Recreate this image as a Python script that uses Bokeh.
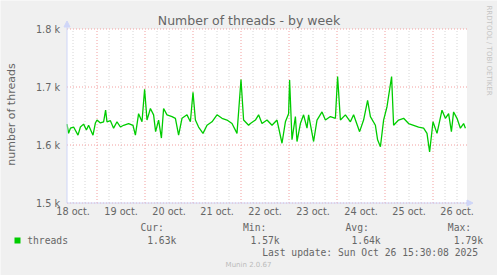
import math
from bokeh.plotting import figure
from bokeh.models import (Label, Range1d, ColumnDataSource, Arrow, NormalHead,
                          BoxAnnotation)
from bokeh.core.properties import value
from bokeh.embed import file_html
from bokeh.resources import INLINE

# ---- data (hours since 18 Oct 00:00, number of threads) ----
hours = [9.0, 9.8, 10.7, 12.3, 14.5, 15.7, 17.3, 18.7, 19.8, 22.0, 23.2, 24.0,
         25.7, 27.3, 28.3, 29.0, 30.7, 32.3, 34.0, 35.7, 37.3, 39.8, 42.0, 43.2,
         44.8, 46.5, 47.8, 49.0, 50.7, 52.3, 53.3, 54.8, 56.2, 57.3, 59.0, 61.5,
         63.2, 64.8, 66.5, 69.0, 70.7, 72.0, 73.2, 74.8, 77.0, 79.0, 81.5, 84.0,
         86.5, 89.0, 91.5, 94.0, 94.8, 96.0, 97.3, 99.8, 100.7, 103.2, 104.8, 106.5,
         109.0, 111.5, 114.0, 116.5, 118.2, 119.8, 120.3, 121.5, 123.2, 124.0, 125.7, 127.3,
         129.0, 129.8, 132.3, 134.0, 136.5, 138.2, 140.7, 143.2, 144.3, 145.7, 148.2, 150.7,
         152.3, 155.3, 157.3, 159.3, 160.7, 163.2, 164.3, 165.7, 167.3, 169.0, 171.3, 172.3,
         174.8, 177.3, 179.8, 182.3, 184.8, 187.3, 189.0, 190.3, 192.0, 194.0, 196.5, 198.2,
         199.8, 201.2, 202.3, 204.0, 205.7, 207.3, 208.2]
threads = [1636, 1620, 1629, 1631, 1617, 1631, 1636, 1626, 1634, 1617, 1638, 1643,
           1638, 1640, 1660, 1640, 1642, 1629, 1640, 1631, 1634, 1637, 1634, 1617,
           1654, 1640, 1696, 1643, 1663, 1652, 1623, 1643, 1612, 1663, 1652, 1649,
           1646, 1617, 1646, 1652, 1640, 1691, 1643, 1631, 1620, 1634, 1640, 1652,
           1646, 1643, 1637, 1620, 1657, 1713, 1643, 1634, 1637, 1643, 1652, 1637,
           1643, 1634, 1643, 1603, 1640, 1654, 1712, 1609, 1649, 1606, 1637, 1652,
           1629, 1652, 1606, 1643, 1657, 1643, 1649, 1646, 1718, 1643, 1652, 1640,
           1652, 1623, 1643, 1677, 1649, 1634, 1609, 1597, 1643, 1666, 1718, 1634,
           1643, 1646, 1637, 1634, 1631, 1629, 1620, 1588, 1640, 1620, 1660, 1646,
           1654, 1623, 1657, 1646, 1629, 1637, 1629]

x_start, x_end = 9, 209            # shown time window (hours)
y_start, y_end = 1500, 1800        # shown value window

day_label_hours = [12, 36, 60, 84, 108, 132, 156, 180, 204]
day_labels = ["18 oct.", "19 oct.", "20 oct.", "21 oct.", "22 oct.",
              "23 oct.", "24 oct.", "25 oct.", "26 oct."]
midnight_hours = [24, 48, 72, 96, 120, 144, 168, 192]
six_hour_marks = [12, 18, 30, 36, 42, 54, 60, 66, 78, 84, 90, 102, 108, 114,
                  126, 132, 138, 150, 156, 162, 174, 180, 186, 198, 204]
y_ticks = [1500, 1600, 1700, 1800]
y_tick_labels = ["1.5 k", "1.6 k", "1.7 k", "1.8 k"]

series_name = "threads"
stat_cur, stat_min, stat_avg, stat_max = "1.63k", "1.57k", "1.64k", "1.79k"
title_text = "Number of threads - by week"
y_axis_title = "number of threads"
last_update = "Last update: Sun Oct 26 15:30:08 2025"
version_text = "Munin 2.0.67"
watermark = "RRDTOOL / TOBI OETIKER"

# ---- styles / layout ----
FONT = "#666666"
AXIS = "#CFD6F8"
MGRID = "#F3A0A0"
GRID = "#D6D6D6"
LINE = "#00CC00"
SANS = "DejaVu Sans"
MONO = "DejaVu Sans Mono"

W, H = 497, 275
PL, PR, PT, PB = 66.5, 466.5, 28.5, 202.5   # plot area in canvas pixels

kx = (PR - PL) / (x_end - x_start)   # px per hour
ky = (PB - PT) / (y_end - y_start)   # px per thread
xr = Range1d(x_start - PL / kx, x_end + (W - PR) / kx)
yr = Range1d(y_start - (H - PB) / ky, y_end + PT / ky)

p = figure(width=W, height=H, output_backend="svg", toolbar_location=None,
           x_range=xr, y_range=yr, x_axis_location=None, y_axis_location=None,
           min_border=0, background_fill_color="#F0F0F0",
           border_fill_color="#F0F0F0")
p.outline_line_color = None
p.grid.visible = False


def cx(px):
    """canvas pixel x -> data x (for layout text only)"""
    return xr.start + px / kx


def cy(py):
    """canvas pixel y (top-down) -> data y (for layout text only)"""
    return yr.end - py / ky


# plot canvas
p.quad(left=[x_start], right=[x_end], bottom=[y_start], top=[y_end],
       fill_color="#FFFFFF", line_color=None)

# grids
p.segment(x0=six_hour_marks, y0=[y_start] * len(six_hour_marks),
          x1=six_hour_marks, y1=[y_end] * len(six_hour_marks),
          line_color=GRID, line_dash="1 2", line_width=1)
p.segment(x0=midnight_hours, y0=[y_start] * len(midnight_hours),
          x1=midnight_hours, y1=[y_end] * len(midnight_hours),
          line_color=MGRID, line_dash="1 2", line_width=1)
p.segment(x0=[x_start] * len(y_ticks), y0=y_ticks,
          x1=[x_end] * len(y_ticks), y1=y_ticks,
          line_color=MGRID, line_dash="1 2", line_width=1)

# series
src = ColumnDataSource(dict(h=hours, v=threads))
p.line("h", "v", source=src, line_color=LINE, line_width=1.3)

# axis lines with arrows
p.add_layout(Arrow(end=NormalHead(size=6, fill_color=AXIS, line_color=AXIS),
                   x_start=x_start, y_start=y_start, x_end=x_start, y_end=cy(PT - 8),
                   line_color=AXIS, line_width=1))
p.add_layout(Arrow(end=NormalHead(size=6, fill_color=AXIS, line_color=AXIS),
                   x_start=x_start, y_start=y_start, x_end=cx(PR + 6), y_end=y_start,
                   line_color=AXIS, line_width=1))

# tick labels
p.text(x=[x_start] * len(y_ticks), y=y_ticks, text=y_tick_labels,
       x_offset=-7, text_align="right", text_baseline="middle",
       text_font=value(SANS), text_font_size="9.7px", text_color=FONT)
p.text(x=day_label_hours, y=[y_start] * len(day_label_hours), text=day_labels,
       y_offset=3, text_align="center", text_baseline="top",
       text_font=value(SANS), text_font_size="9.7px", text_color=FONT)


def label(text, x, y, font=SANS, size="9.7px", color=FONT, align="left",
          baseline="middle", angle=0.0):
    p.add_layout(Label(x=cx(x), y=cy(y), text=text, text_font=font,
                       text_font_size=size, text_color=color, text_align=align,
                       text_baseline=baseline, angle=angle))


# titles and watermarks
label(title_text, 248.5, 19.5, size="12.5px", align="center")
label(y_axis_title, 11, 114, size="11px", align="center", angle=math.pi / 2)
label(watermark, 488, 5, size="7px", color="#C4C4C4", angle=-math.pi / 2)
label(version_text, 248, 264, size="7px", color="#BBBBBB", align="center")

# legend
p.add_layout(BoxAnnotation(left=cx(14), right=cx(20), bottom=cy(243), top=cy(237),
                           fill_color=LINE, fill_alpha=1.0, line_color=None))
label(series_name, 26.7, 240, font=MONO)
label("Cur:", 140, 227.3, font=MONO)
label(stat_cur, 146.7, 240, font=MONO)
label("Min:", 242.5, 227.3, font=MONO)
label(stat_min, 250, 240, font=MONO)
label("Avg:", 345, 227.3, font=MONO)
label(stat_avg, 351, 240, font=MONO)
label("Max:", 447.3, 227.3, font=MONO)
label(stat_max, 453.3, 240, font=MONO)
label(last_update, 261.7, 252.3, font=MONO)

open("out.html", "w").write(file_html(p, INLINE))
